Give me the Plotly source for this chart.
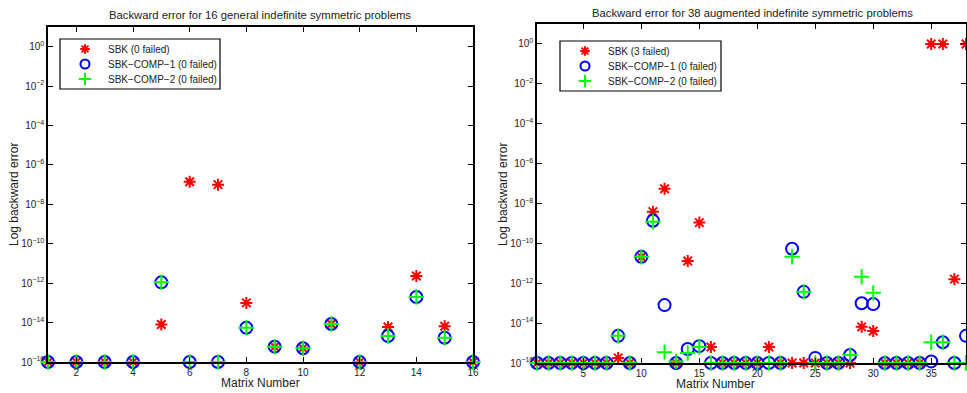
import plotly.graph_objects as go

# ---------------- data ----------------
left_x = list(range(1, 17))
left_sbk = [1e-16, 1e-16, 1e-16, 1e-16, 8e-15, 1.4e-7, 1.0e-7, 1.0e-13,
            6e-16, 5e-16, 8.5e-15, 1e-16, 6e-15, 2.3e-12, 6.5e-15, 1e-16]
left_comp1 = [1e-16, 1e-16, 1e-16, 1e-16, 1.1e-12, 1e-16, 1e-16, 5.5e-15,
              6e-16, 5e-16, 8.5e-15, 1e-16, 2.1e-15, 2.0e-13, 1.7e-15, 1e-16]
left_comp2 = [1e-16, 1e-16, 1e-16, 1e-16, 1.1e-12, 1e-16, 1e-16, 5.5e-15,
              6e-16, 5e-16, 8.5e-15, 1e-16, 2.1e-15, 2.0e-13, 1.7e-15, 1e-16]

right_x = list(range(1, 39))
right_sbk = [1e-16, 1e-16, 1e-16, 1e-16, 1e-16, 1e-16, 1e-16, 1.8e-16,
             1e-16, 2.1e-11, 3.9e-9, 5.5e-8, 1e-16, 1.3e-11, 1.1e-9, 6.3e-16,
             1e-16, 1e-16, 1e-16, 1e-16, 6.3e-16, 1e-16, 1e-16, 1e-16,
             1e-16, 1e-16, 1e-16, 1e-16, 6.5e-15, 4e-15, 1e-16, 1e-16,
             1e-16, 1e-16, 1e0, 1e0, 1.6e-12, 1e0]
right_comp1 = [1e-16, 1e-16, 1e-16, 1e-16, 1e-16, 1e-16, 1e-16, 2.3e-15,
               1e-16, 2.1e-11, 1.35e-9, 8e-14, 1e-16, 5e-16, 7e-16, 1e-16,
               1e-16, 1e-16, 1e-16, 1e-16, 1e-16, 1e-16, 5.4e-11, 3.7e-13,
               1.8e-16, 1e-16, 1e-16, 2.5e-16, 1e-13, 9e-14, 1e-16, 1e-16,
               1e-16, 1e-16, 1.2e-16, 1.1e-15, 1e-16, 2.3e-15]
right_comp2 = [1e-16, 1e-16, 1e-16, 1e-16, 1e-16, 1e-16, 1e-16, 2.3e-15,
               1e-16, 2.1e-11, 1.2e-9, 3.5e-16, 1.2e-16, 3.2e-16, 6.3e-16, 1e-16,
               1e-16, 1e-16, 1e-16, 1e-16, 1e-16, 1e-16, 2.1e-11, 3.7e-13,
               1e-16, 1e-16, 1e-16, 2.5e-16, 2.1e-12, 3.3e-13, 1e-16, 1e-16,
               1e-16, 1e-16, 1.1e-15, 1.1e-15, 1e-16, 1e-16]

left_names = ["SBK (0 failed)", "SBK\u2212COMP\u22121 (0 failed)", "SBK\u2212COMP\u22122 (0 failed)"]
right_names = ["SBK (3 failed)", "SBK\u2212COMP\u22121 (0 failed)", "SBK\u2212COMP\u22122 (0 failed)"]

y_tickvals = [10.0 ** e for e in range(-16, 1, 2)]
y_ticktext = ["10<sup>%s</sup>" % (str(e).replace("-", "\u2212")) for e in range(-16, 1, 2)]
left_xticks = [2, 4, 6, 8, 10, 12, 14, 16]
right_xticks = [5, 10, 15, 20, 25, 30, 35]

FONT = "Liberation Sans, Arial, Helvetica, sans-serif"
TXT = "#222222"
W, H = 967, 393

fig = go.Figure()

styles = [
    dict(symbol="asterisk-open", size=10, color="#ff0000", line=dict(color="#ff0000", width=2)),
    dict(symbol="circle-open", size=12, color="#0000ff", line=dict(color="#0000ff", width=2)),
    dict(symbol="cross-thin-open", size=11, color="#00ff00", line=dict(color="#00ff00", width=2)),
]
legend_styles = [
    dict(symbol="asterisk-open", size=8, color="#ff0000", line=dict(color="#ff0000", width=2)),
    dict(symbol="circle-open", size=9, color="#0000ff", line=dict(color="#0000ff", width=2)),
    dict(symbol="cross-thin-open", size=9, color="#00ff00", line=dict(color="#00ff00", width=2)),
]

for vals, name, st in zip([left_sbk, left_comp1, left_comp2], left_names, styles):
    fig.add_trace(go.Scatter(x=left_x, y=vals, mode="markers", name=name,
                             marker=st, xaxis="x", yaxis="y", showlegend=False,
                             cliponaxis=False))
for vals, name, st in zip([right_sbk, right_comp1, right_comp2], right_names, styles):
    fig.add_trace(go.Scatter(x=right_x, y=vals, mode="markers", name=name,
                             marker=st, xaxis="x2", yaxis="y2", showlegend=False,
                             cliponaxis=False))

# ---- legend boxes (drawn on a pixel overlay axis) ----
legend_boxes = [
    dict(box=(60, 39, 220, 89), sym_x=85, text_x=106, rows=(49, 64, 79), names=left_names),
    dict(box=(560, 41, 721, 91), sym_x=585, text_x=606, rows=(51, 66, 81), names=right_names),
]
for i, st in enumerate(legend_styles):
    fig.add_trace(go.Scatter(x=[lb["sym_x"] for lb in legend_boxes],
                             y=[lb["rows"][i] for lb in legend_boxes],
                             mode="markers", marker=st, xaxis="x3", yaxis="y3",
                             showlegend=False, hoverinfo="skip", cliponaxis=False))
for lb in legend_boxes:
    x0, y0, x1, y1 = lb["box"]
    fig.add_shape(type="rect", xref="x3", yref="y3", x0=x0, y0=y0, x1=x1, y1=y1,
                  line=dict(color="black", width=1.2), fillcolor="rgba(0,0,0,0)",
                  layer="below")
    for name, ry in zip(lb["names"], lb["rows"]):
        fig.add_annotation(text=name, x=lb["text_x"], y=ry, xref="x3", yref="y3",
                           xanchor="left", yanchor="middle", showarrow=False,
                           font=dict(family=FONT, size=10, color=TXT))

axis_common = dict(showline=True, linecolor="black", linewidth=1.5, mirror="ticks",
                   ticks="inside", ticklen=5, tickcolor="black", showgrid=False,
                   zeroline=False, automargin=False,
                   tickfont=dict(family=FONT, size=10, color=TXT))

fig.update_layout(
    width=W, height=H,
    margin=dict(l=0, r=0, t=0, b=0, autoexpand=False),
    paper_bgcolor="white", plot_bgcolor="rgba(0,0,0,0)",
    font=dict(family=FONT, size=10, color=TXT),
    showlegend=False,
    xaxis=dict(domain=[48 / W, 473 / W], range=[1, 16], tickvals=left_xticks,
               anchor="y", **axis_common),
    yaxis=dict(domain=[1 - 362 / H, 1 - 27 / H], type="log", range=[-16, 1],
               tickvals=y_tickvals, ticktext=y_ticktext, anchor="x", **axis_common),
    xaxis2=dict(domain=[537 / W, 966 / W], range=[1, 38], tickvals=right_xticks,
                anchor="y2", **axis_common),
    yaxis2=dict(domain=[1 - 363 / H, 1 - 24 / H], type="log", range=[-16, 1],
                tickvals=y_tickvals, ticktext=y_ticktext, anchor="x2", **axis_common),
    xaxis3=dict(domain=[0, 1], range=[0, W], visible=False, anchor="y3", automargin=False),
    yaxis3=dict(domain=[0, 1], range=[H, 0], visible=False, anchor="x3", automargin=False),
)

ann_font = dict(family=FONT, size=11.3, color=TXT)
lab_font = dict(family=FONT, size=12, color=TXT)


def ann(text, px, py, font, angle=0):
    fig.add_annotation(text=text, x=px / W, y=1 - py / H, xref="paper", yref="paper",
                       xanchor="center", yanchor="middle", showarrow=False,
                       textangle=angle, font=font)


ann("Backward error for 16 general indefinite symmetric problems", 260, 15, ann_font)
ann("Backward error for 38 augmented indefinite symmetric problems", 752, 13, ann_font)
ann("Matrix Number", 260, 383, lab_font)
ann("Matrix Number", 715, 384, lab_font)
ann("Log backward error", 14, 195, lab_font, -90)
ann("Log backward error", 503, 195, lab_font, -90)

fig.write_html("out.html")
